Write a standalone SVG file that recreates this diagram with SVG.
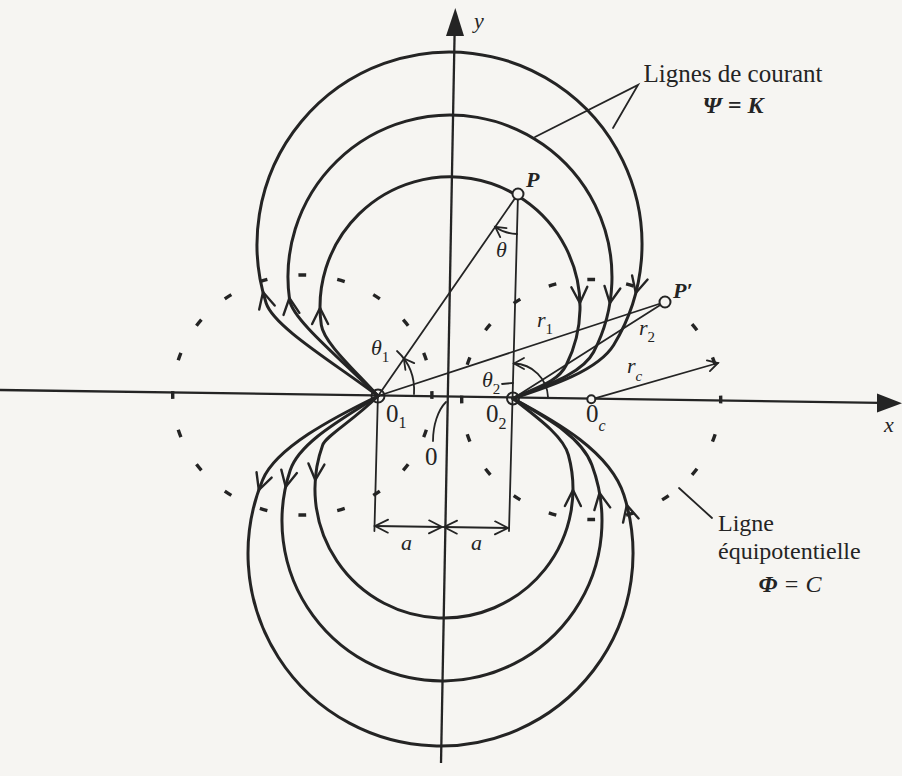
<svg xmlns="http://www.w3.org/2000/svg" width="902" height="776" viewBox="0 0 902 776">
<defs>
<style>
.s{fill:none;stroke:#242424;stroke-width:3;stroke-linejoin:round;stroke-linecap:round}
.t{fill:none;stroke:#242424;stroke-width:1.8;stroke-linecap:round}
.ax{fill:none;stroke:#242424;stroke-width:2.3}
.eq{fill:none;stroke:#242424;stroke-width:3.4;stroke-dasharray:2 8;stroke-dashoffset:1}
.ah{fill:none;stroke:#242424;stroke-width:2.4;stroke-linecap:round;stroke-linejoin:miter}
.ahs{fill:none;stroke:#242424;stroke-width:1.8;stroke-linecap:round}
.tip{fill:#242424;stroke:none}
.pt{fill:#f6f5f2;stroke:#242424;stroke-width:2}
text{font-family:"Liberation Serif","Times New Roman",serif;fill:#242424}
.i{font-style:italic}
</style>
<path id="v" d="M-16,-8 L0,0 L-16,8"/>
<path id="vs" d="M-10,-5.5 L0,0 L-10,5.5"/>
<path id="vd" d="M-13,-6.5 L0,0 L-13,6.5"/>
</defs>
<rect x="0" y="0" width="902" height="776" fill="#f6f5f2"/>

<g id="equipotentials">
<ellipse class="eq" cx="302.3" cy="395" rx="129.6" ry="120" pathLength="200"/>
<ellipse class="eq" cx="591.2" cy="399.5" rx="129.5" ry="120" pathLength="200"/>
</g>

<g id="axes">
<line class="ax" x1="0" y1="390" x2="880" y2="402.8"/>
<polygon class="tip" points="902,403.2 877,393.5 877,412.5"/>
<line class="ax" x1="441" y1="763" x2="454.6" y2="33"/>
<polygon class="tip" points="455.3,8 446,36 464,36"/>
</g>

<g id="connectors">
<g id="streamlines">
<path class="s" d="M378,396 C334.1,362.9 273.7,326.8 266.1,303 A192.5,192.5 0 1 1 613.7,345 C598,370.6 551,386.1 513,398.5"/>
<path class="s" d="M378,396 C342.6,360.6 292.4,319.8 289.6,300 A162,162 0 1 1 593.6,352 C582,374.2 545.7,385.5 513,398.5"/>
<path class="s" d="M378,396 C354.6,370 323.8,342.8 321.3,325 A130,130 0 1 1 566.3,365 C557.4,382.9 535.7,387.4 513,398.5"/>
<path class="s" d="M378,396 C333,417.9 276,447.7 262.6,480 A192.5,192.5 0 1 0 623.9,495 C610.2,452.1 557.2,422 513,398.5"/>
<path class="s" d="M378,396 C344.4,417.8 299.9,441.6 290.3,470 A160,160 0 1 0 591.9,465 C581.4,436.9 547.6,418.5 513,398.5"/>
<path class="s" d="M378,396 C353.3,420.7 326.1,435.6 322.7,445 A129,129 0 1 0 568.4,455 C563.1,435.7 536.6,417 513,398.5"/>
</g>
<g id="flow-arrows">
<use href="#v" class="ah" transform="translate(263,292) rotate(-104.3)"/>
<use href="#v" class="ah" transform="translate(289.4,298) rotate(-97.4)"/>
<use href="#v" class="ah" transform="translate(320,308) rotate(-90.4)"/>
<use href="#v" class="ah" transform="translate(635.8,293) rotate(104.6)"/>
<use href="#v" class="ah" transform="translate(609.9,303) rotate(99)"/>
<use href="#v" class="ah" transform="translate(579.9,303) rotate(88)"/>
<use href="#v" class="ah" transform="translate(258.8,490) rotate(109.3)"/>
<use href="#v" class="ah" transform="translate(285.7,487) rotate(102.3)"/>
<use href="#v" class="ah" transform="translate(315.3,480) rotate(94)"/>
<use href="#v" class="ah" transform="translate(573,490) rotate(-89.6)"/>
<use href="#v" class="ah" transform="translate(599.5,493) rotate(-100)"/>
<use href="#v" class="ah" transform="translate(626.8,505) rotate(-104.6)"/>
</g>
<g id="construction">
<line class="t" x1="378" y1="396" x2="518" y2="194"/>
<line class="t" x1="518" y1="194" x2="509" y2="531"/>
<line class="t" x1="377.9" y1="396" x2="374.4" y2="531"/>
<line class="t" x1="378" y1="396" x2="665" y2="302"/>
<line class="t" x1="513" y1="398.5" x2="665" y2="302"/>
<line class="t" x1="591.3" y1="399.3" x2="718" y2="363"/>
<use href="#vs" class="ahs" transform="translate(718,363) rotate(-16)"/>
<line class="t" x1="375" y1="526" x2="442" y2="527"/>
<line class="t" x1="444" y1="527" x2="508" y2="528"/>
<use href="#vd" class="ahs" transform="translate(375,526) rotate(180.8)"/>
<use href="#vd" class="ahs" transform="translate(442,527) rotate(0.8)"/>
<use href="#vd" class="ahs" transform="translate(444,527) rotate(180.8)"/>
<use href="#vd" class="ahs" transform="translate(508,528) rotate(0.8)"/>
<path class="t" d="M414,394 C415,378 410,363 397,351"/>
<use href="#vs" class="ahs" transform="translate(403.8,358.5) rotate(-127)"/>
<path class="t" d="M548,397 A35,35 0 0 0 514,363.5"/>
<use href="#vs" class="ahs" transform="translate(514,363.5) rotate(180)"/>
<line class="t" x1="502" y1="384" x2="513" y2="383"/>
<path class="t" d="M517,234 A40,40 0 0 1 495.2,226.9"/>
<use href="#vs" class="ahs" transform="translate(495.2,226.9) rotate(-145)"/>
<path class="t" d="M433,441 C433,425 438,410 446,402"/>
<path class="t" d="M535,137 L638,85 L613,128"/>
<line class="t" x1="679" y1="488" x2="712" y2="518"/>
</g>
</g>

<g id="points">
<circle id="O1" cx="378" cy="396" r="6.5" fill="none" stroke="#242424" stroke-width="2"/>
<circle id="O2" cx="513" cy="398.5" r="6" fill="none" stroke="#242424" stroke-width="2"/>
<circle id="Oc" class="pt" cx="591.3" cy="399.3" r="4"/>
<circle id="P" class="pt" cx="518" cy="194" r="5.5"/>
<circle id="Pp" class="pt" cx="665" cy="302" r="5.5"/>
</g>

<g id="labels">
<text class="i" x="474" y="28" font-size="22">y</text>
<text class="i" x="884" y="432" font-size="22">x</text>
<text x="733" y="82" font-size="25" text-anchor="middle">Lignes de courant</text>
<text class="i" x="733" y="113" font-size="24" font-weight="bold" text-anchor="middle">Ψ = K</text>
<text class="i" x="526" y="187" font-size="22" font-weight="bold">P</text>
<text class="i" x="673" y="298" font-size="22" font-weight="bold">P′</text>
<text class="i" x="496" y="257" font-size="22">θ</text>
<text class="i" x="371" y="355" font-size="22">θ<tspan font-size="15" dy="7" font-style="normal">1</tspan></text>
<text class="i" x="482" y="387" font-size="22">θ<tspan font-size="15" dy="7" font-style="normal">2</tspan></text>
<text class="i" x="537" y="327" font-size="22">r<tspan font-size="15" dy="7" font-style="normal">1</tspan></text>
<text class="i" x="639" y="335" font-size="22">r<tspan font-size="15" dy="7" font-style="normal">2</tspan></text>
<text class="i" x="627" y="373" font-size="22">r<tspan font-size="15" dy="8">c</tspan></text>
<text x="386" y="422" font-size="25">0<tspan font-size="16" dy="6">1</tspan></text>
<text x="486" y="422" font-size="25">0<tspan font-size="16" dy="7">2</tspan></text>
<text x="586" y="422" font-size="25">0<tspan font-size="16" dy="9" font-style="italic">c</tspan></text>
<text x="425" y="465" font-size="25">0</text>
<text class="i" x="401" y="550" font-size="22">a</text>
<text class="i" x="471" y="550" font-size="22">a</text>
<text x="718" y="531" font-size="24">Ligne</text>
<text x="718" y="559" font-size="24">équipotentielle</text>
<text class="i" x="790" y="592" font-size="24" text-anchor="middle"><tspan font-weight="bold">Φ</tspan> = C</text>
</g>
</svg>
